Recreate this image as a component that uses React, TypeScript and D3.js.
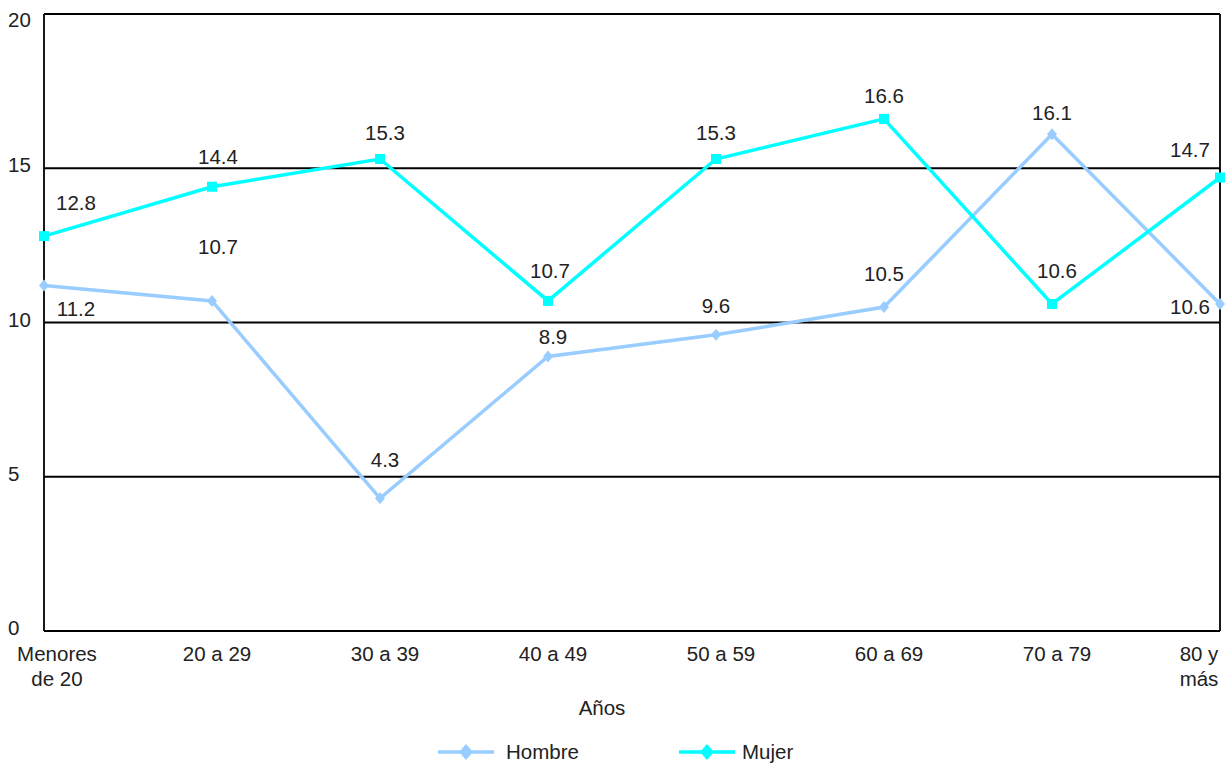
import React from "react";
import * as d3 from "d3";

const categories: string[][] = [
  ["Menores", "de 20"],
  ["20 a 29"],
  ["30 a 39"],
  ["40 a 49"],
  ["50 a 59"],
  ["60 a 69"],
  ["70 a 79"],
  ["80 y", "más"],
];
const hombre = [11.2, 10.7, 4.3, 8.9, 9.6, 10.5, 16.1, 10.6];
const mujer = [12.8, 14.4, 15.3, 10.7, 15.3, 16.6, 10.6, 14.7];
const yTicks = [0, 5, 10, 15, 20];
const seriesNames = ["Hombre", "Mujer"];

// label placement (offsets of each value label's centre from its point)
const hombreLabelDx = [32, 6, 5, 5, 0, 0, 0, -30];
const hombreLabelDy = [24, -54, -38, -19, -29, -33, -21, 3];
const mujerLabelDx = [32, 6, 5, 2, 0, 0, 5, -30];
const mujerLabelDy = [-33, -30, -26, -30, -26, -23, -33, -28];

const W = 1228;
const H = 764;
const FONT = "'Liberation Sans', Arial, Helvetica, sans-serif";
const FS = 20.5;
const TEXT = "#222";
const C_H = "#99CCFF";
const C_M = "#00FFFF";

export default function App() {
  const x = d3
    .scalePoint<number>()
    .domain(d3.range(categories.length))
    .range([44, 1220])
    .padding(0);
  const y = d3.scaleLinear().domain([0, 20]).range([631, 14]);

  const line = d3
    .line<number>()
    .x((_, i) => x(i) as number)
    .y((d) => y(d));

  const diamond = (cx: number, cy: number, r: number, rh: number = r) =>
    `M${cx},${cy - rh}L${cx + r},${cy}L${cx},${cy + rh}L${cx - r},${cy}Z`;

  return (
    <svg
      width={W}
      height={H}
      style={{ position: "absolute", left: 0, top: 0, background: "#fff" }}
      fontFamily={FONT}
    >
      <rect x={0} y={0} width={W} height={H} fill="#fff" />
      {/* grid lines */}
      {yTicks.map((t) => (
        <line
          key={"g" + t}
          x1={44}
          x2={1220}
          y1={y(t)}
          y2={y(t)}
          stroke="#000"
          strokeWidth={1.8}
        />
      ))}
      <line x1={44} x2={44} y1={y(20)} y2={y(0)} stroke="#000" strokeWidth={1.8} />
      <line x1={1220} x2={1220} y1={y(20)} y2={y(0)} stroke="#000" strokeWidth={1.8} />

      {/* y tick labels */}
      {yTicks.map((t) => (
        <text
          key={"yt" + t}
          x={8}
          y={Math.max(y(t) - 3, 20) + 7}
          fontSize={FS}
          fill={TEXT}
        >
          {t}
        </text>
      ))}

      {/* x tick labels */}
      {categories.map((c, i) => {
        const cx =
          (x(i) as number) + (i === 0 ? 13 : i === categories.length - 1 ? -21 : 5);
        return (
          <text key={"xt" + i} x={cx} textAnchor="middle" fontSize={FS} fill={TEXT}>
            {c.map((l, j) => (
              <tspan key={j} x={cx} y={661 + j * 25}>
                {l}
              </tspan>
            ))}
          </text>
        );
      })}

      <text x={602} y={715} textAnchor="middle" fontSize={FS} fill={TEXT}>
        Años
      </text>

      {/* series lines */}
      <path d={line(hombre) || ""} fill="none" stroke={C_H} strokeWidth={3.5} />
      <path d={line(mujer) || ""} fill="none" stroke={C_M} strokeWidth={3.5} />

      {/* markers */}
      {hombre.map((v, i) => (
        <path key={"hm" + i} d={diamond(x(i) as number, y(v), 5, 6)} fill={C_H} />
      ))}
      {mujer.map((v, i) => (
        <rect
          key={"mm" + i}
          x={(x(i) as number) - 5}
          y={y(v) - 5}
          width={10}
          height={10}
          fill={C_M}
        />
      ))}

      {/* value labels */}
      {hombre.map((v, i) => (
        <text
          key={"hl" + i}
          x={(x(i) as number) + hombreLabelDx[i]}
          y={y(v) + hombreLabelDy[i] + 7}
          textAnchor="middle"
          fontSize={FS}
          fill={TEXT}
        >
          {v.toFixed(1)}
        </text>
      ))}
      {mujer.map((v, i) => (
        <text
          key={"ml" + i}
          x={(x(i) as number) + mujerLabelDx[i]}
          y={y(v) + mujerLabelDy[i] + 7}
          textAnchor="middle"
          fontSize={FS}
          fill={TEXT}
        >
          {v.toFixed(1)}
        </text>
      ))}

      {/* legend */}
      {seriesNames.map((name, k) => {
        const x0 = k === 0 ? 438 : 679;
        const col = k === 0 ? C_H : C_M;
        return (
          <g key={"lg" + k}>
            <line x1={x0} x2={x0 + 56} y1={752} y2={752} stroke={col} strokeWidth={3.5} />
            <path d={diamond(x0 + 28, 752, 7, 8)} fill={col} />
            <text x={x0 + (k === 0 ? 68 : 63)} y={759} fontSize={FS} fill={TEXT}>
              {name}
            </text>
          </g>
        );
      })}
    </svg>
  );
}
